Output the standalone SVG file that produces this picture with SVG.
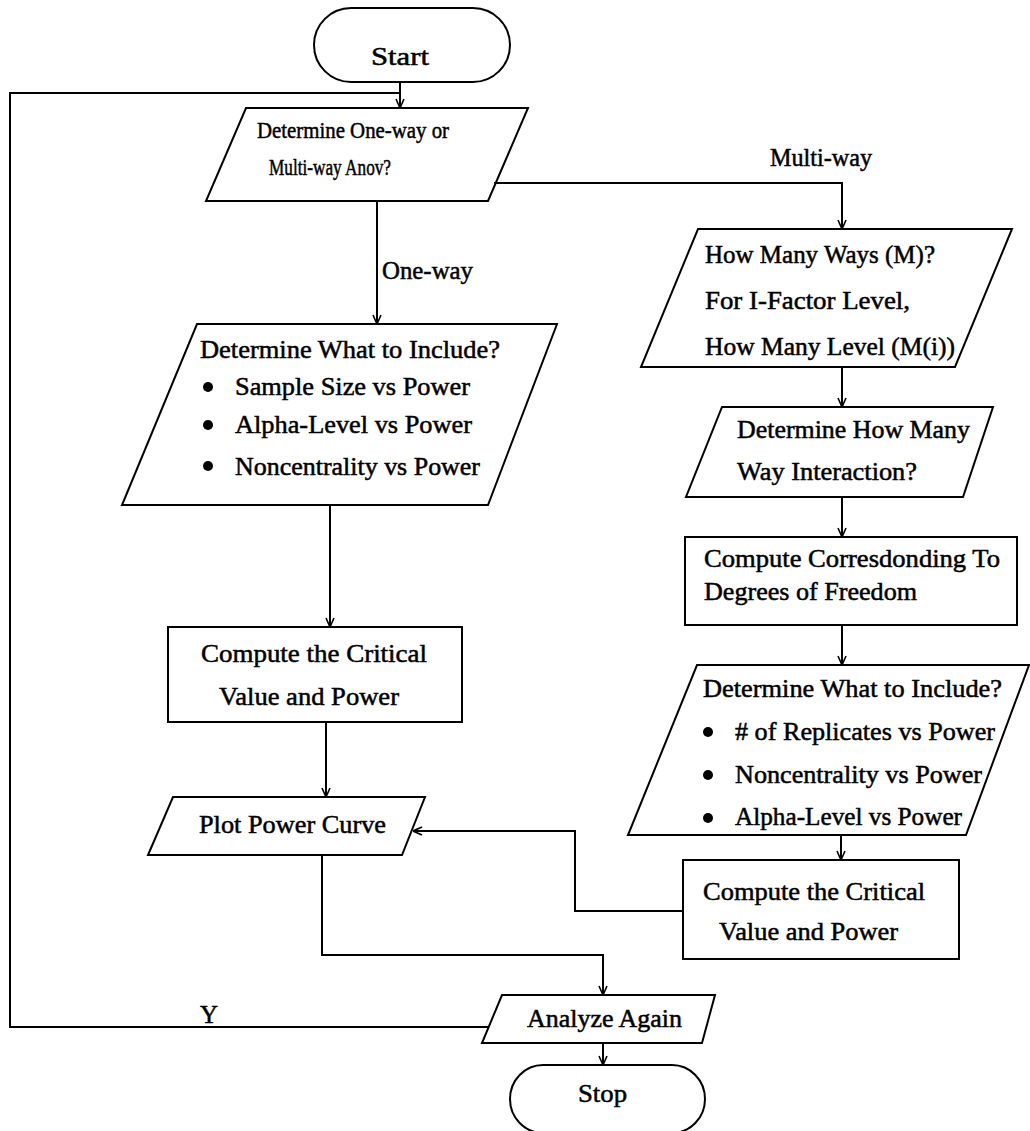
<svg xmlns="http://www.w3.org/2000/svg" width="1030" height="1131" viewBox="0 0 1030 1131">
<style>
.s{fill:none;stroke:#000;stroke-width:2}
.c{fill:none;stroke:#000;stroke-width:2}
text{font-family:"Liberation Serif","Times New Roman",serif;font-size:25px;fill:#000;stroke:#000;stroke-width:0.5}
.sm{font-size:24px}
.bul{fill:#000}
</style>
<defs>
<marker id="ar" viewBox="0 0 10 10" refX="10" refY="5" markerWidth="10" markerHeight="10" markerUnits="userSpaceOnUse" orient="auto">
<path d="M1,1 L10,5 L1,9" fill="none" stroke="#000" stroke-width="1.6"/>
</marker>
</defs>
<rect width="1030" height="1131" fill="#fff"/>
<g id="connectors">
<path class="c" d="M400,82 V108" marker-end="url(#ar)"/>
<path class="c" d="M489,1027 H10 V93 H400"/>
<path class="c" d="M494,183 H842 V229" marker-end="url(#ar)"/>
<path class="c" d="M377,201 V324" marker-end="url(#ar)"/>
<path class="c" d="M330,505 V627" marker-end="url(#ar)"/>
<path class="c" d="M326,722 V797" marker-end="url(#ar)"/>
<path class="c" d="M322,855 V955 H603 V995" marker-end="url(#ar)"/>
<path class="c" d="M683,911 H575 V831 H413" marker-end="url(#ar)"/>
<path class="c" d="M842,367 V407" marker-end="url(#ar)"/>
<path class="c" d="M842,497 V537" marker-end="url(#ar)"/>
<path class="c" d="M842,625 V665" marker-end="url(#ar)"/>
<path class="c" d="M841,835 V860" marker-end="url(#ar)"/>
<path class="c" d="M603,1043 V1065" marker-end="url(#ar)"/>
<text x="770" y="166" textLength="102" lengthAdjust="spacingAndGlyphs">Multi-way</text>
<text x="382" y="279" textLength="91" lengthAdjust="spacingAndGlyphs">One-way</text>
<text x="200" y="1023" textLength="18" lengthAdjust="spacingAndGlyphs">Y</text>
</g>
<g id="start">
<rect class="s" x="314" y="8" width="196" height="74" rx="37" ry="37"/>
<text x="371" y="65" font-size="27" textLength="58" lengthAdjust="spacingAndGlyphs">Start</text>
</g>
<g id="determine-anova">
<polygon class="s" points="246,108 528,108 488,201 206,201"/>
<text class="sm" x="257" y="138" textLength="192" lengthAdjust="spacingAndGlyphs">Determine One-way or</text>
<text class="sm" x="269" y="175" textLength="122" lengthAdjust="spacingAndGlyphs">Multi-way Anov?</text>
</g>
<g id="include-oneway">
<polygon class="s" points="197,324 557,324 488,505 122,505"/>
<text x="200" y="358" textLength="300" lengthAdjust="spacingAndGlyphs">Determine What to Include?</text>
<circle class="bul" cx="208" cy="387" r="5"/>
<text x="235" y="395" textLength="235" lengthAdjust="spacingAndGlyphs">Sample Size vs Power</text>
<circle class="bul" cx="208" cy="425" r="5"/>
<text x="235" y="433" textLength="237" lengthAdjust="spacingAndGlyphs">Alpha-Level vs Power</text>
<circle class="bul" cx="208" cy="466" r="5"/>
<text x="235" y="475" textLength="245" lengthAdjust="spacingAndGlyphs">Noncentrality vs Power</text>
</g>
<g id="compute-oneway">
<rect class="s" x="168" y="627" width="294" height="95"/>
<text x="201" y="662" textLength="226" lengthAdjust="spacingAndGlyphs">Compute the Critical</text>
<text x="219" y="705" textLength="180" lengthAdjust="spacingAndGlyphs">Value and Power</text>
</g>
<g id="plot">
<polygon class="s" points="173,797 425,797 402,855 148,855"/>
<text x="199" y="833" textLength="187" lengthAdjust="spacingAndGlyphs">Plot Power Curve</text>
</g>
<g id="how-many-ways">
<polygon class="s" points="698,229 1012,229 955,367 641,367"/>
<text x="705" y="263" textLength="230" lengthAdjust="spacingAndGlyphs">How Many Ways (M)?</text>
<text x="705" y="309" textLength="205" lengthAdjust="spacingAndGlyphs">For I-Factor Level,</text>
<text x="705" y="355" textLength="250" lengthAdjust="spacingAndGlyphs">How Many Level (M(i))</text>
</g>
<g id="interaction">
<polygon class="s" points="722,407 993,407 963,497 686,497"/>
<text x="737" y="438" textLength="233" lengthAdjust="spacingAndGlyphs">Determine How Many</text>
<text x="737" y="480" textLength="180" lengthAdjust="spacingAndGlyphs">Way Interaction?</text>
</g>
<g id="degrees">
<rect class="s" x="685" y="537" width="332" height="88"/>
<text x="704" y="567" textLength="296" lengthAdjust="spacingAndGlyphs">Compute Corresdonding To</text>
<text x="704" y="600" textLength="213" lengthAdjust="spacingAndGlyphs">Degrees of Freedom</text>
</g>
<g id="include-multiway">
<polygon class="s" points="697,665 1029,665 966,835 628,835"/>
<text x="703" y="697" textLength="299" lengthAdjust="spacingAndGlyphs">Determine What to Include?</text>
<circle class="bul" cx="708" cy="732" r="5"/>
<text x="735" y="740" textLength="260" lengthAdjust="spacingAndGlyphs"># of Replicates vs Power</text>
<circle class="bul" cx="708" cy="775" r="5"/>
<text x="735" y="783" textLength="247" lengthAdjust="spacingAndGlyphs">Noncentrality vs Power</text>
<circle class="bul" cx="708" cy="818" r="5"/>
<text x="735" y="825" textLength="227" lengthAdjust="spacingAndGlyphs">Alpha-Level vs Power</text>
</g>
<g id="compute-multiway">
<rect class="s" x="683" y="860" width="276" height="99"/>
<text x="703" y="900" textLength="222" lengthAdjust="spacingAndGlyphs">Compute the Critical</text>
<text x="719" y="940" textLength="179" lengthAdjust="spacingAndGlyphs">Value and Power</text>
</g>
<g id="analyze">
<polygon class="s" points="502,995 715,995 702,1043 482,1043"/>
<text x="527" y="1027" textLength="155" lengthAdjust="spacingAndGlyphs">Analyze Again</text>
</g>
<g id="stop">
<rect class="s" x="510" y="1065" width="195" height="68" rx="33" ry="34"/>
<text x="578" y="1102" textLength="49" lengthAdjust="spacingAndGlyphs">Stop</text>
</g>
</svg>
